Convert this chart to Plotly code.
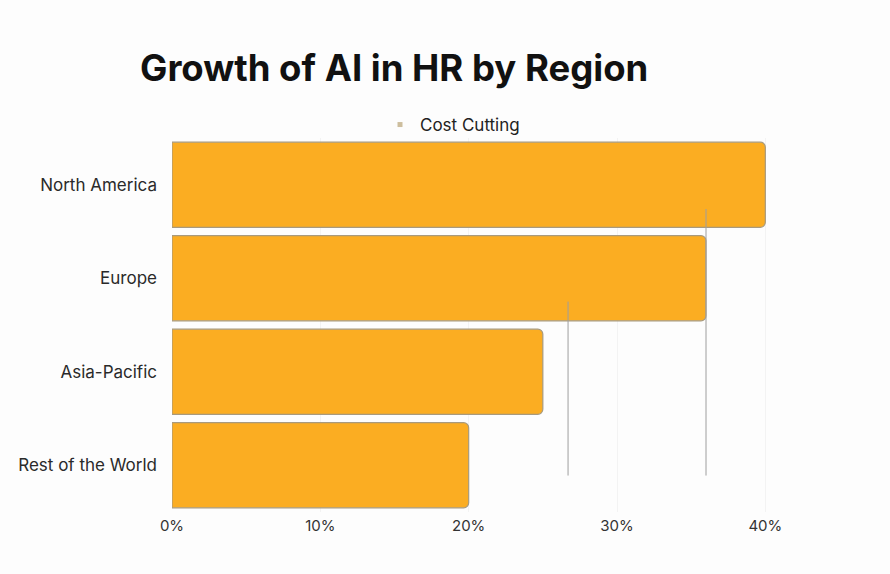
import plotly.graph_objects as go

# Share of HR teams citing AI for cost cutting, by region (%)
regions = ["Rest of the World", "Asia-Pacific", "Europe", "North America"]
cost_cutting = [20, 25, 36, 40]

# Reference markers drawn over the bars: (x value, top in category units)
marker_x = [26.7, 36]
marker_top = [1.75, 2.74]

tick_vals = [0, 10, 20, 30, 40]
tick_text = ["0%", "10%", "20%", "30%", "40%"]

bar_color = "#FBAD22"
outline = "#A89A7E"

W, H = 890, 574
M_L, M_R, M_T, M_B = 172, 95, 138, 62
plot_h = H - M_T - M_B
plot_w = W - M_L - M_R

fig = go.Figure()
fig.add_trace(go.Bar(
    x=cost_cutting, y=regions, orientation="h",
    marker=dict(color=bar_color, line=dict(color=outline, width=1.2)),
    showlegend=False, hoverinfo="x+y",
))
# Legend entry with a small square swatch
fig.add_trace(go.Scatter(
    x=[None], y=[None], mode="markers", name="Cost Cutting",
    marker=dict(symbol="square", size=5, color="#CDBE9E"),
))

for xv, top in zip(marker_x, marker_top):
    fig.add_shape(type="line", xref="x", yref="y",
                  x0=xv, x1=xv, y0=-0.11, y1=top,
                  line=dict(color="#9E9E9E", width=1), layer="above")

fig.update_layout(
    width=W, height=H,
    margin=dict(l=M_L, r=M_R, t=M_T, b=M_B),
    paper_bgcolor="#FDFDFD", plot_bgcolor="#FDFDFD",
    font=dict(family="Inter, Roboto, sans-serif", size=17, color="#333333"),
    title=dict(text="<b>Growth of AI in HR by Region</b>",
               x=140 / W, xanchor="left", xref="container",
               y=1 - 68 / H, yanchor="middle", yref="container",
               font=dict(family="Inter, Roboto, sans-serif", size=36.5, color="#111111")),
    bargap=0.09,
    barcornerradius=5,
    legend=dict(orientation="h", x=(380 - M_L) / plot_w, xanchor="left",
                y=(H - M_B - 125) / plot_h, yanchor="middle",
                font=dict(size=17, color="#222222"),
                bgcolor="rgba(0,0,0,0)", itemwidth=30),
    showlegend=True,
    xaxis=dict(range=[0, 42], tickvals=tick_vals, ticktext=tick_text,
               showgrid=True, gridcolor="#F3F3F3", zeroline=False,
               showline=False, ticks="", ticklabelstandoff=3,
               tickfont=dict(size=15, color="#333333")),
    yaxis=dict(categoryorder="array", categoryarray=regions,
               range=[-0.5, 3.5], showgrid=False, zeroline=False,
               ticks="", ticklabelstandoff=14,
               tickfont=dict(size=17, color="#2A2A2A")),
)

fig.write_html("out.html")
